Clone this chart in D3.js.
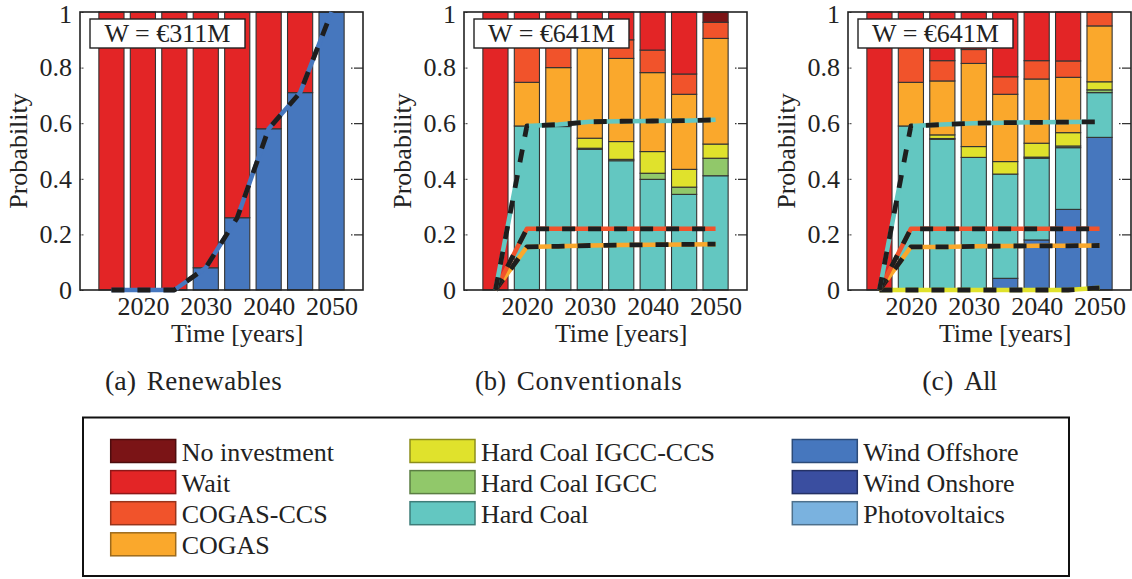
<!DOCTYPE html>
<html>
<head>
<meta charset="utf-8">
<script src="https://cdn.jsdelivr.net/npm/d3@7"></script>
<style>
  html, body { margin: 0; padding: 0; background: #fff; }
  svg { display: block; }
  text { font-family: "Liberation Serif", "Times New Roman", serif; fill: #222; }
</style>
</head>
<body>
<svg id="chart" width="1132" height="579"></svg>
<script>
// ---- data ---------------------------------------------------------------
const years = [2015, 2020, 2025, 2030, 2035, 2040, 2045, 2050];
const xTickYears = [2020, 2030, 2040, 2050];
const yTicks = [0, 0.2, 0.4, 0.6, 0.8, 1];

const seriesNames = ["No investment", "Wait", "COGAS-CCS", "COGAS",
  "Hard Coal IGCC-CCS", "Hard Coal IGCC", "Hard Coal",
  "Wind Offshore", "Wind Onshore", "Photovoltaics"];
const seriesColors = ["#7b1416", "#e32526", "#f1532b", "#faa82c",
  "#e0e22c", "#91c86a", "#63c7c1",
  "#4677be", "#3a4ea0", "#7ab2df"];
// stacking order, bottom to top
const stackOrder = ["Wind Offshore", "Wind Onshore", "Photovoltaics",
  "Hard Coal", "Hard Coal IGCC", "Hard Coal IGCC-CCS",
  "COGAS", "COGAS-CCS", "Wait", "No investment"];

// (a) Renewables
const renWindOffshore = [0, 0, 0, 0.08, 0.26, 0.58, 0.71, 1.00];
const renWait         = [1, 1, 1, 0.92, 0.74, 0.42, 0.29, 0];
const renLineWindOffshore = [0, 0, 0, 0.08, 0.26, 0.58, 0.71, 1.00];

// (b) Conventionals
const conHardCoal     = [0, 0.590, 0.588, 0.506, 0.465, 0.398, 0.344, 0.411];
const conIgcc         = [0, 0, 0, 0.004, 0.005, 0.022, 0.026, 0.063];
const conIgccCcs      = [0, 0, 0.005, 0.036, 0.064, 0.078, 0.064, 0.051];
const conCogas        = [0, 0.157, 0.207, 0.334, 0.299, 0.284, 0.270, 0.380];
const conCogasCcs     = [0, 0.133, 0.080, 0.045, 0.067, 0.081, 0.073, 0.058];
const conWait         = [1, 0.120, 0.120, 0.075, 0.100, 0.137, 0.223, 0];
const conNoInvestment = [0, 0, 0, 0, 0, 0, 0, 0.037];
const conLineHardCoal  = [0, 0.590, 0.595, 0.605, 0.607, 0.608, 0.609, 0.612];
const conLineCogasCcs  = [0, 0.220, 0.220, 0.220, 0.220, 0.220, 0.220, 0.220];
const conLineCogas     = [0, 0.155, 0.157, 0.160, 0.162, 0.163, 0.164, 0.165];

// (c) All
const allWindOffshore = [0, 0, 0, 0, 0.042, 0.180, 0.290, 0.549];
const allHardCoal     = [0, 0.590, 0.542, 0.477, 0.375, 0.294, 0.222, 0.161];
const allIgcc         = [0, 0, 0.003, 0, 0, 0.004, 0.006, 0.010];
const allIgccCcs      = [0, 0, 0.013, 0.039, 0.045, 0.050, 0.048, 0.029];
const allCogas        = [0, 0.157, 0.194, 0.299, 0.242, 0.231, 0.199, 0.201];
const allCogasCcs     = [0, 0.133, 0.073, 0.050, 0.063, 0.066, 0.059, 0.050];
const allWait         = [1, 0.120, 0.175, 0.135, 0.233, 0.175, 0.176, 0];
const allLineHardCoal  = [0, 0.590, 0.595, 0.600, 0.602, 0.603, 0.604, 0.605];
const allLineCogasCcs  = [0, 0.220, 0.220, 0.220, 0.220, 0.220, 0.220, 0.220];
const allLineCogas     = [0, 0.155, 0.155, 0.157, 0.158, 0.159, 0.159, 0.160];
const allLineIgccCcs   = [0, 0, 0, 0, 0, 0, 0, 0.008];

const valueLabels = ["W = \u20ac311M", "W = \u20ac641M", "W = \u20ac641M"];
const captionTags = ["(a)", "(b)", "(c)"];
const captionWords = ["Renewables", "Conventionals", "All"];

// ---- assemble panels ----------------------------------------------------
const panels = [
  {
    shares: { "Wind Offshore": renWindOffshore, "Wait": renWait },
    lines: [["Wind Offshore", renLineWindOffshore]]
  },
  {
    shares: { "Hard Coal": conHardCoal, "Hard Coal IGCC": conIgcc,
      "Hard Coal IGCC-CCS": conIgccCcs, "COGAS": conCogas,
      "COGAS-CCS": conCogasCcs, "Wait": conWait, "No investment": conNoInvestment },
    lines: [["COGAS", conLineCogas], ["COGAS-CCS", conLineCogasCcs], ["Hard Coal", conLineHardCoal]]
  },
  {
    shares: { "Wind Offshore": allWindOffshore, "Hard Coal": allHardCoal,
      "Hard Coal IGCC": allIgcc, "Hard Coal IGCC-CCS": allIgccCcs,
      "COGAS": allCogas, "COGAS-CCS": allCogasCcs, "Wait": allWait },
    lines: [["Hard Coal IGCC-CCS", allLineIgccCcs], ["COGAS", allLineCogas],
      ["COGAS-CCS", allLineCogasCcs], ["Hard Coal", allLineHardCoal]]
  }
];

const color = d3.scaleOrdinal(seriesNames, seriesColors);

// ---- layout ---------------------------------------------------------------
const svg = d3.select("#chart");
const panelLefts = [80, 464, 848];
const plotW = 283, plotTop = 12, plotBottom = 290;
const fontSize = 26;

const y = d3.scaleLinear().domain([0, 1]).range([plotBottom, plotTop]);

panels.forEach((p, i) => {
  const left = panelLefts[i];
  const x = d3.scaleLinear().domain([2010, 2055]).range([left, left + plotW]);
  const g = svg.append("g");

  // stacked bars
  const rows = years.map((yr, j) => {
    const r = { year: yr };
    stackOrder.forEach(k => { r[k] = p.shares[k] ? p.shares[k][j] : 0; });
    return r;
  });
  const stacked = d3.stack().keys(stackOrder)(rows);
  stacked.forEach(layer => {
    g.append("g")
      .selectAll("rect")
      .data(layer.filter(d => d[1] - d[0] > 1e-6))
      .join("rect")
      .attr("x", d => x(d.data.year - 2))
      .attr("width", d => x(d.data.year + 2) - x(d.data.year - 2))
      .attr("y", d => y(d[1]))
      .attr("height", d => y(d[0]) - y(d[1]))
      .attr("fill", color(layer.key))
      .attr("stroke", "#333")
      .attr("stroke-width", 1.1);
  });

  // axes
  const yAxis = d3.axisLeft(y).tickValues(yTicks).tickFormat(d => d)
    .tickSizeInner(-3.5).tickSizeOuter(0).tickPadding(8);
  const ga = g.append("g").attr("transform", `translate(${left},0)`).call(yAxis);
  ga.select(".domain").remove();
  ga.selectAll(".tick line").attr("stroke", "#333").attr("stroke-dasharray", "1.5,0.5,1.5");
  ga.selectAll("text").attr("font-size", fontSize).style("font-family", "Liberation Serif").attr("fill", "#222");
  ga.selectAll(".tick").filter(d => d === 1).select("text").attr("dy", "0.42em");

  const yAxisR = d3.axisRight(y).tickValues(yTicks.slice(1, -1)).tickFormat("")
    .tickSizeInner(-12).tickSizeOuter(0);
  const gr = g.append("g").attr("transform", `translate(${left + plotW},0)`).call(yAxisR);
  gr.select(".domain").remove();
  gr.selectAll(".tick line").attr("stroke", "#333").attr("stroke-width", 1.2)
    .attr("stroke-dasharray", "9,1.5,1.5");

  const xAxis = d3.axisBottom(x).tickValues(xTickYears).tickFormat(d3.format("d"))
    .tickSize(0).tickPadding(6.5);
  const gx = g.append("g").attr("transform", `translate(0,${plotBottom})`).call(xAxis);
  gx.select(".domain").remove();
  gx.selectAll("text").attr("font-size", fontSize).style("font-family", "Liberation Serif").attr("fill", "#222");

  // frame
  g.append("rect")
    .attr("x", left).attr("y", plotTop)
    .attr("width", plotW).attr("height", plotBottom - plotTop)
    .attr("fill", "none").attr("stroke", "#222").attr("stroke-width", 1.6);

  // dashed cumulative lines, drawn over the frame
  const line = d3.line()
    .x(d => x(d.year))
    .y(d => y(d.v));
  p.lines.forEach(([key, vals]) => {
    const pts = years.map((yr, j) => ({ year: yr, v: vals[j] }));
    g.append("path").attr("d", line(pts))
      .attr("fill", "none").attr("stroke", color(key)).attr("stroke-width", 4.5)
      .attr("stroke-linejoin", "round");
    g.append("path").attr("d", line(pts))
      .attr("fill", "none").attr("stroke", "#1e1e1e").attr("stroke-width", 4.8)
      .attr("stroke-linejoin", "round")
      .attr("stroke-dasharray", "13,13");
  });

  // value box
  g.append("rect")
    .attr("x", left + 10).attr("y", 19).attr("width", 155).attr("height", 29)
    .attr("fill", "#fff").attr("stroke", "#222").attr("stroke-width", 1.4);
  g.append("text")
    .attr("x", left + 10 + 77.5).attr("y", 42)
    .attr("text-anchor", "middle").attr("font-size", fontSize)
    .text(valueLabels[i]);

  // axis titles
  g.append("text")
    .attr("transform", `translate(${left - 53},${(plotTop + plotBottom) / 2}) rotate(-90)`)
    .attr("text-anchor", "middle").attr("font-size", fontSize)
    .text("Probability");
  g.append("text")
    .attr("x", x(2035)).attr("y", 341.5)
    .attr("text-anchor", "middle").attr("font-size", fontSize)
    .text("Time [years]");

  // sub-caption
  const capStart = [25, 11, 74.3][i];
  g.append("text")
    .attr("x", left + capStart).attr("y", 390)
    .attr("font-size", 27)
    .attr("textLength", 31).attr("lengthAdjust", "spacingAndGlyphs")
    .text(captionTags[i]);
  g.append("text")
    .attr("x", left + capStart + 41.7).attr("y", 390)
    .attr("font-size", 27)
    .attr("textLength", [135, 165, 33.3][i]).attr("lengthAdjust", "spacing")
    .text(captionWords[i]);
});

// ---- legend -----------------------------------------------------------------
const legendCols = [
  ["No investment", "Wait", "COGAS-CCS", "COGAS"],
  ["Hard Coal IGCC-CCS", "Hard Coal IGCC", "Hard Coal"],
  ["Wind Offshore", "Wind Onshore", "Photovoltaics"]
];
const lg = svg.append("g");
lg.append("rect")
  .attr("x", 83).attr("y", 417.5).attr("width", 986).attr("height", 158.5)
  .attr("fill", "#fff").attr("stroke", "#111").attr("stroke-width", 2);
const colX = [110.7, 410, 792.3];
legendCols.forEach((col, c) => {
  const cg = lg.append("g");
  const items = cg.selectAll("g").data(col).join("g")
    .attr("transform", (d, r) => `translate(${colX[c]},${439.5 + r * 31.1})`);
  items.append("rect")
    .attr("width", 65).attr("height", 23)
    .attr("fill", d => color(d))
    .attr("stroke", d => d3.color(color(d)).darker(1.3))
    .attr("stroke-width", 1.5);
  items.append("text")
    .attr("x", 71).attr("y", 21)
    .attr("font-size", fontSize)
    .text(d => d);
});
</script>
</body>
</html>
